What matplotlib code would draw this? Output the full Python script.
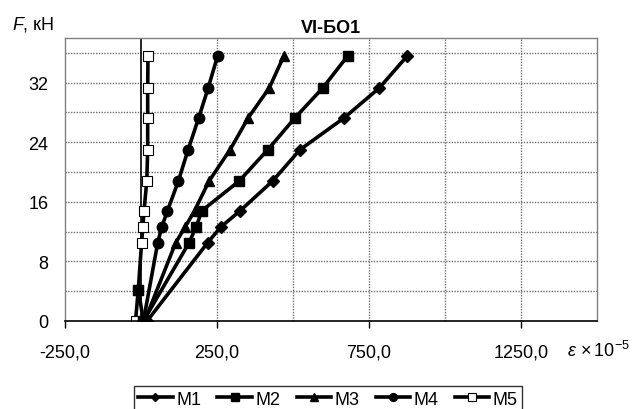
import numpy as np
import matplotlib
matplotlib.use("Agg")
import matplotlib.pyplot as plt
from matplotlib.ticker import FuncFormatter

plt.rcParams['font.family'] = ['Liberation Sans', 'DejaVu Sans']
plt.rcParams['mathtext.fontset'] = 'custom'
plt.rcParams['mathtext.rm'] = 'Liberation Sans'
plt.rcParams['mathtext.it'] = 'Liberation Sans:italic'

# ----------  Data (strain x1e-5, load kN)  ----------

m1_load   = [0, 10.5, 12.6, 14.8, 18.8, 23.0, 27.3, 31.3, 35.6]
m1_strain = [20, 219, 262, 326, 433, 523, 669, 784, 876]

# first point of M2 sits at 4.2 kN, the line then drops back to the origin
m2_load   = [4.2, 0, 10.5, 12.6, 14.8, 18.8, 23.0, 27.3, 31.3, 35.6]
m2_strain = [-9, 8, 158, 181, 200, 323, 417, 507, 598, 680]

m3_load   = [0, 10.5, 12.6, 14.8, 18.8, 23.0, 27.3, 31.3, 35.6]
m3_strain = [12, 114, 145, 176, 224, 293, 353, 422, 470]

m4_load   = [0, 10.5, 12.6, 14.8, 18.8, 23.0, 27.3, 31.3, 35.6]
m4_strain = [8, 55, 68, 87, 123, 155, 190, 221, 252]

m5_load   = [0, 4.2, 10.5, 12.6, 14.8, 18.8, 23.0, 27.3, 31.3, 35.6]
m5_strain = [-18, -9, 2, 6, 10, 19, 22, 22, 22, 23]

series = [
    ('M1', m1_strain, m1_load, 'D', 'black', 6, 3),
    ('M2', m2_strain, m2_load, 's', 'black', 7, 4),
    ('M3', m3_strain, m3_load, '^', 'black', 7.5, 3),
    ('M4', m4_strain, m4_load, 'o', 'black', 7.5, 3),
    ('M5', m5_strain, m5_load, 's', 'white', 7, 2.5),
]

# ----------  Plotting  ----------

fig = plt.figure(figsize=(6.36, 4.10), dpi=100)
ax = fig.add_axes([65/636, 1 - 322/410, 532/636, 283/410])

grid_kw = dict(color='#707070', linestyle=(0, (1, 1)), linewidth=1.0, zorder=0)
for gx in [250, 500, 750, 1000, 1250]:
    ax.axvline(gx, **grid_kw)
for gy in np.arange(4, 38, 4):
    ax.axhline(gy, **grid_kw)
ax.axvline(0, color='black', linewidth=1.2, zorder=1)

for name, xs, ys, mk, fc, ms, zo in series:
    ax.plot(xs, ys, color='black', linewidth=2.6, marker=mk, markersize=ms,
            markerfacecolor=fc, markeredgecolor='black',
            markeredgewidth=0.8 if fc == 'white' else 1.0,
            label=name, zorder=zo)

ax.set_xlim(-250, 1500)
ax.set_ylim(0, 38)
ax.set_xticks([-250, 250, 750, 1250])
ax.set_yticks([0, 8, 16, 24, 32])
ax.xaxis.set_major_formatter(FuncFormatter(lambda v, p: f"{v:.1f}".replace('.', ',')))

ax.tick_params(axis='x', direction='out', length=5, width=1, color='black',
               labelsize=13, pad=11)
ax.tick_params(axis='y', length=0, labelsize=13, pad=12)

for s in ['top', 'right', 'left']:
    ax.spines[s].set_color('#808080')
    ax.spines[s].set_linewidth(1.0)
ax.spines['bottom'].set_color('black')
ax.spines['bottom'].set_linewidth(1.2)

ax.set_title('VI-БО1', fontsize=13, fontweight='bold', pad=4)

fig.text(12/636, 1 - 30/410, '$F$, кН', fontsize=13, va='baseline', ha='left')
fig.text(567/636, 1 - 357/410, r'$\mathit{ε}\,\times10^{-5}$', fontsize=13,
         va='baseline', ha='left')

leg = fig.legend(loc='upper center', bbox_to_anchor=(328/636, 1 - 378/410),
                 ncol=5, fontsize=13, frameon=True, fancybox=False,
                 edgecolor='black', handlelength=1.9, handletextpad=0.2,
                 columnspacing=0.9, borderpad=0.25, markerscale=0.75)
leg.get_frame().set_linewidth(1.0)

fig.savefig('out.png', dpi=100)
